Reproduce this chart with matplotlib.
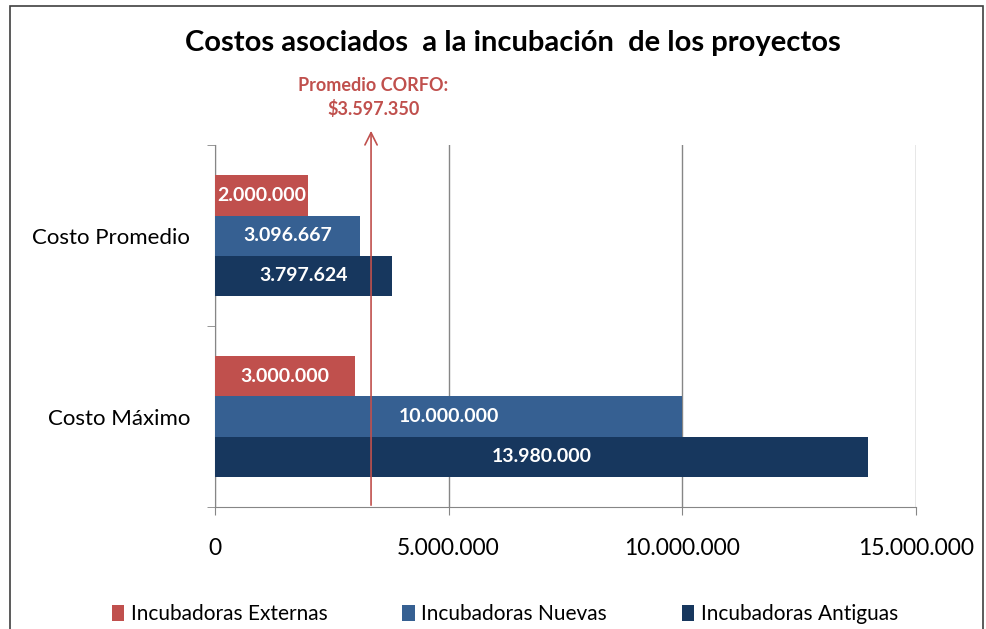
import matplotlib.pyplot as plt
from matplotlib.patches import Rectangle
from matplotlib.ticker import FuncFormatter

plt.rcParams['font.family'] = ['Lato', 'DejaVu Sans']

# Datos
categorias = ['Costo Máximo', 'Costo Promedio']
series = ['Incubadoras Externas', 'Incubadoras Nuevas', 'Incubadoras Antiguas']
externas = [3000000, 2000000]
nuevas = [10000000, 3096667]
antiguas = [13980000, 3797624]
promedio_corfo = 3597350
linea_corfo = 3340000  # posición de la línea tal como aparece en el gráfico
colores = ['#C0504D', '#366092', '#17375E']


def miles(v, pos=None):
    return f'{int(round(v)):,}'.replace(',', '.')


fig = plt.figure(figsize=(9.86, 6.29), dpi=100)
ax = fig.add_axes([0.218, 0.194, 0.711, 0.575])

h = 0.222
ypos = range(len(categorias))
for i, (nombre, valores, color) in enumerate(zip(series, [externas, nuevas, antiguas], colores)):
    off = h * (1 - i)
    ys = [y + off for y in ypos]
    bars = ax.barh(ys, valores, height=h, color=color, label=nombre, zorder=3)
    for b, v in zip(bars, valores):
        ax.text(b.get_width() / 2, b.get_y() + h / 2, miles(v), color='white',
                fontsize=14, fontweight='bold', ha='center', va='center', zorder=4,
                clip_on=True)

ax.set_xlim(0, 15000000)
ax.set_ylim(-0.5, 1.5)
ax.set_xticks([0, 5000000, 10000000, 15000000])
ax.xaxis.set_major_formatter(FuncFormatter(miles))
ax.set_yticks(list(ypos))
ax.set_yticklabels(categorias)
ax.set_yticks([-0.5, 0.5, 1.5], minor=True)
ax.tick_params(axis='y', which='major', length=0, labelsize=16, pad=18)
ax.tick_params(axis='y', which='minor', length=6, color='#868686', direction='out')
ax.tick_params(axis='x', length=6, color='#868686', labelsize=16.5, pad=16)
ax.grid(axis='x', color='#868686', lw=1, zorder=0)
for s in ['top', 'right']:
    ax.spines[s].set_visible(False)
for s in ['left', 'bottom']:
    ax.spines[s].set_color('#868686')

# Línea del promedio CORFO
ax.annotate('', xy=(linea_corfo, 1.58), xytext=(linea_corfo, -0.49),
            arrowprops=dict(arrowstyle='->', color='#C0504D', lw=1.2,
                            mutation_scale=22, shrinkA=0, shrinkB=0),
            annotation_clip=False, zorder=5)
ax.text(linea_corfo + 50000, 1.5 + 48 / 181, 'Promedio CORFO:\n\\$' + miles(promedio_corfo),
        color='#C0504D', fontsize=13, fontweight='bold', ha='center', va='center',
        linespacing=1.4)

fig.suptitle('Costos asociados  a la incubación  de los proyectos',
             fontsize=21, fontweight='bold', x=0.52, y=0.953)

handles, labels = ax.get_legend_handles_labels()
fig.legend(handles, labels, loc='center', bbox_to_anchor=(0.512, 0.024), ncol=3,
           frameon=False, fontsize=15, handlelength=0.6, handleheight=0.8,
           handletextpad=0.3, columnspacing=3.6)

fig.patches.append(Rectangle((0.01, -0.1), 0.987, 1.1 - 0.0095, transform=fig.transFigure,
                             fill=False, edgecolor='#404040', lw=1.2))

fig.savefig('out.png', dpi=100)
